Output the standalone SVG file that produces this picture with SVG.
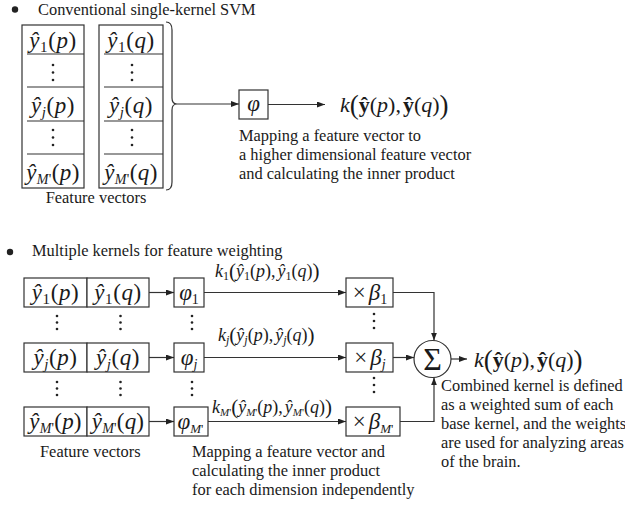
<svg xmlns="http://www.w3.org/2000/svg" width="625" height="505" viewBox="0 0 625 505">
<defs>
<style>
.t{font-family:"Liberation Serif","Times New Roman",serif;font-size:16.4px;fill:#1a1a1a}
.m{font-family:"Liberation Serif","Times New Roman",serif;font-size:23px;fill:#1a1a1a}
.i{font-style:italic}
.b{font-weight:bold}
.box{fill:#fff;stroke:#333;stroke-width:1.2}
.ln{fill:none;stroke:#333;stroke-width:1.2}
.dot{fill:#222}
</style>
<marker id="ah" viewBox="0 0 8 6" refX="8" refY="3" markerWidth="8" markerHeight="6" markerUnits="userSpaceOnUse" orient="auto">
<path d="M0,0 L8,3 L0,6 z" fill="#222"/>
</marker>
</defs>
<rect width="625" height="505" fill="#fff"/>

<g id="title-top">
<circle cx="15" cy="9.5" r="3.2" class="dot"/>
<text class="t" x="38" y="15">Conventional single-kernel SVM</text>
</g>

<g id="vec-p-top">
<rect class="box" x="22" y="25" width="62" height="163"/>
<path class="ln" d="M27,54 H84 M27,87 H84 M27,121 H84 M27,154 H84"/>
<text class="m" x="53" y="48" text-anchor="middle" letter-spacing="0.6"><tspan class="i">ŷ</tspan><tspan font-size="15" dy="4">1</tspan><tspan dy="-4">(</tspan><tspan class="i">p</tspan>)</text>
<circle class="dot" cx="53" cy="65" r="1.3"/><circle class="dot" cx="53" cy="72.5" r="1.3"/><circle class="dot" cx="53" cy="80" r="1.3"/>
<text class="m" x="53" y="113" text-anchor="middle" letter-spacing="0.6"><tspan class="i">ŷ</tspan><tspan class="i" font-size="15" dy="4">j</tspan><tspan dy="-4">(</tspan><tspan class="i">p</tspan>)</text>
<circle class="dot" cx="53" cy="130" r="1.3"/><circle class="dot" cx="53" cy="137.5" r="1.3"/><circle class="dot" cx="53" cy="145" r="1.3"/>
<text class="m" x="53" y="180" text-anchor="middle" letter-spacing="0.4"><tspan class="i">ŷ</tspan><tspan class="i" font-size="14" dy="4">M</tspan><tspan font-size="14">'</tspan><tspan dy="-4">(</tspan><tspan class="i">p</tspan>)</text>
</g>

<g id="vec-q-top">
<rect class="box" x="99" y="25" width="64" height="163"/>
<path class="ln" d="M104,54 H163 M104,87 H163 M104,121 H163 M104,154 H163"/>
<text class="m" x="131" y="48" text-anchor="middle" letter-spacing="0.6"><tspan class="i">ŷ</tspan><tspan font-size="15" dy="4">1</tspan><tspan dy="-4">(</tspan><tspan class="i">q</tspan>)</text>
<circle class="dot" cx="132" cy="65" r="1.3"/><circle class="dot" cx="132" cy="72.5" r="1.3"/><circle class="dot" cx="132" cy="80" r="1.3"/>
<text class="m" x="131" y="113" text-anchor="middle" letter-spacing="0.6"><tspan class="i">ŷ</tspan><tspan class="i" font-size="15" dy="4">j</tspan><tspan dy="-4">(</tspan><tspan class="i">q</tspan>)</text>
<circle class="dot" cx="132" cy="130" r="1.3"/><circle class="dot" cx="132" cy="137.5" r="1.3"/><circle class="dot" cx="132" cy="145" r="1.3"/>
<text class="m" x="131" y="180" text-anchor="middle" letter-spacing="0.4"><tspan class="i">ŷ</tspan><tspan class="i" font-size="14" dy="4">M</tspan><tspan font-size="14">'</tspan><tspan dy="-4">(</tspan><tspan class="i">q</tspan>)</text>
</g>

<g id="label-fv-top">
<text class="t" x="96" y="203" text-anchor="middle">Feature vectors</text>
</g>

<g id="phi-top">
<rect class="box" x="239" y="90" width="29" height="29"/>
<text class="m i" x="253.5" y="111" text-anchor="middle">φ</text>
</g>

<g id="out-top">
<text class="m" x="340" y="112" style="font-size:22px"><tspan class="i">k</tspan><tspan font-size="27" dy="1.5">(</tspan><tspan class="b" dy="-1.5">ŷ</tspan>(<tspan class="i">p</tspan>),<tspan class="b" dx="2">ŷ</tspan>(<tspan class="i">q</tspan>)<tspan font-size="27" dy="1.5">)</tspan></text>
</g>

<g id="desc-top">
<text class="t" x="239" y="141">Mapping a feature vector to</text>
<text class="t" x="239" y="160">a higher dimensional feature vector</text>
<text class="t" x="239" y="179">and calculating the inner product</text>
</g>

<g id="title-bottom">
<circle cx="10" cy="252" r="3.2" class="dot"/>
<text class="t" x="32" y="256">Multiple kernels for feature weighting</text>
</g>

<g id="row1">
<rect class="box" x="24" y="278" width="63" height="29"/>
<rect class="box" x="87" y="278" width="62" height="29"/>
<text class="m" x="55.5" y="300" text-anchor="middle" letter-spacing="0.6"><tspan class="i">ŷ</tspan><tspan font-size="15" dy="4">1</tspan><tspan dy="-4">(</tspan><tspan class="i">p</tspan>)</text>
<text class="m" x="118" y="300" text-anchor="middle" letter-spacing="0.6"><tspan class="i">ŷ</tspan><tspan font-size="15" dy="4">1</tspan><tspan dy="-4">(</tspan><tspan class="i">q</tspan>)</text>
</g>
<g id="phi1">
<rect class="box" x="174" y="278" width="30" height="29"/>
<text class="m" x="189" y="300" text-anchor="middle"><tspan class="i">φ</tspan><tspan font-size="14" dy="4">1</tspan></text>
</g>
<g id="beta1">
<rect class="box" x="346" y="278" width="47" height="29"/>
<text class="m" x="370" y="300" text-anchor="middle">×<tspan class="i" dx="3">β</tspan><tspan font-size="14" dy="4">1</tspan></text>
</g>

<g id="rowj">
<rect class="box" x="24" y="343" width="63" height="29"/>
<rect class="box" x="87" y="343" width="62" height="29"/>
<text class="m" x="55.5" y="365" text-anchor="middle" letter-spacing="0.6"><tspan class="i">ŷ</tspan><tspan class="i" font-size="15" dy="4">j</tspan><tspan dy="-4">(</tspan><tspan class="i">p</tspan>)</text>
<text class="m" x="118" y="365" text-anchor="middle" letter-spacing="0.6"><tspan class="i">ŷ</tspan><tspan class="i" font-size="15" dy="4">j</tspan><tspan dy="-4">(</tspan><tspan class="i">q</tspan>)</text>
</g>
<g id="phij">
<rect class="box" x="174" y="343" width="30" height="29"/>
<text class="m" x="189" y="365" text-anchor="middle"><tspan class="i">φ</tspan><tspan class="i" font-size="14" dy="4">j</tspan></text>
</g>
<g id="betaj">
<rect class="box" x="346" y="343" width="47" height="29"/>
<text class="m" x="370" y="365" text-anchor="middle">×<tspan class="i" dx="3">β</tspan><tspan class="i" font-size="14" dy="4">j</tspan></text>
</g>

<g id="rowM">
<rect class="box" x="24" y="407" width="63" height="29"/>
<rect class="box" x="87" y="407" width="62" height="29"/>
<text class="m" x="55.5" y="429" text-anchor="middle" letter-spacing="0.2"><tspan class="i">ŷ</tspan><tspan class="i" font-size="14" dy="4">M</tspan><tspan font-size="14">'</tspan><tspan dy="-4">(</tspan><tspan class="i">p</tspan>)</text>
<text class="m" x="118" y="429" text-anchor="middle" letter-spacing="0.2"><tspan class="i">ŷ</tspan><tspan class="i" font-size="14" dy="4">M</tspan><tspan font-size="14">'</tspan><tspan dy="-4">(</tspan><tspan class="i">q</tspan>)</text>
</g>
<g id="phiM">
<rect class="box" x="174" y="407" width="34" height="29"/>
<text class="m" x="190.5" y="429" text-anchor="middle"><tspan class="i">φ</tspan><tspan class="i" font-size="13" dy="4">M</tspan><tspan font-size="13">'</tspan></text>
</g>
<g id="betaM">
<rect class="box" x="346" y="407" width="54" height="29"/>
<text class="m" x="373" y="429" text-anchor="middle">×<tspan class="i" dx="3">β</tspan><tspan class="i" font-size="13" dy="4">M</tspan><tspan font-size="13">'</tspan></text>
</g>

<g id="vdots">
<g class="dot">
<circle cx="57" cy="316" r="1.3"/><circle cx="57" cy="322.5" r="1.3"/><circle cx="57" cy="329" r="1.3"/>
<circle cx="120.5" cy="316" r="1.3"/><circle cx="120.5" cy="322.5" r="1.3"/><circle cx="120.5" cy="329" r="1.3"/>
<circle cx="192" cy="316" r="1.3"/><circle cx="192" cy="322.5" r="1.3"/><circle cx="192" cy="329" r="1.3"/>
<circle cx="374" cy="314" r="1.3"/><circle cx="374" cy="321" r="1.3"/><circle cx="374" cy="328" r="1.3"/>
<circle cx="57" cy="382" r="1.3"/><circle cx="57" cy="388.5" r="1.3"/><circle cx="57" cy="395" r="1.3"/>
<circle cx="120.5" cy="382" r="1.3"/><circle cx="120.5" cy="388.5" r="1.3"/><circle cx="120.5" cy="395" r="1.3"/>
<circle cx="192" cy="382" r="1.3"/><circle cx="192" cy="388.5" r="1.3"/><circle cx="192" cy="395" r="1.3"/>
<circle cx="374" cy="378" r="1.3"/><circle cx="374" cy="385" r="1.3"/><circle cx="374" cy="392" r="1.3"/>
</g>
</g>

<g id="sum">
<circle cx="432.5" cy="359" r="18.5" fill="#fff" stroke="#333" stroke-width="1.2"/>
<text class="m" x="432.5" y="370" style="font-size:32px" text-anchor="middle">Σ</text>
</g>

<g id="out-bottom">
<text class="m" x="474" y="367" style="font-size:22px"><tspan class="i">k</tspan><tspan font-size="27" dy="1.5">(</tspan><tspan class="b" dy="-1.5">ŷ</tspan>(<tspan class="i">p</tspan>),<tspan class="b" dx="2">ŷ</tspan>(<tspan class="i">q</tspan>)<tspan font-size="27" dy="1.5">)</tspan></text>
</g>

<g id="klabels">
<text class="m" x="215" y="277" style="font-size:18px"><tspan class="i">k</tspan><tspan font-size="12" dy="3">1</tspan><tspan font-size="21" dy="-2">(</tspan><tspan class="i" dy="-1">ŷ</tspan><tspan font-size="12" dy="3">1</tspan><tspan dy="-3">(</tspan><tspan class="i">p</tspan>),<tspan class="i" dx="2">ŷ</tspan><tspan font-size="12" dy="3">1</tspan><tspan dy="-3">(</tspan><tspan class="i">q</tspan>)<tspan font-size="21" dy="1">)</tspan></text>
<text class="m" x="218" y="341" style="font-size:18px"><tspan class="i">k</tspan><tspan class="i" font-size="12" dy="3">j</tspan><tspan font-size="21" dy="-2">(</tspan><tspan class="i" dy="-1">ŷ</tspan><tspan class="i" font-size="12" dy="3">j</tspan><tspan dy="-3">(</tspan><tspan class="i">p</tspan>),<tspan class="i" dx="2">ŷ</tspan><tspan class="i" font-size="12" dy="3">j</tspan><tspan dy="-3">(</tspan><tspan class="i">q</tspan>)<tspan font-size="21" dy="1">)</tspan></text>
<text class="m" x="212" y="413" style="font-size:18px"><tspan class="i">k</tspan><tspan class="i" font-size="11" dy="3">M</tspan><tspan font-size="11">'</tspan><tspan font-size="21" dy="-2">(</tspan><tspan class="i" dy="-1">ŷ</tspan><tspan class="i" font-size="11" dy="3">M</tspan><tspan font-size="11">'</tspan><tspan dy="-3">(</tspan><tspan class="i">p</tspan>),<tspan class="i" dx="2">ŷ</tspan><tspan class="i" font-size="11" dy="3">M</tspan><tspan font-size="11">'</tspan><tspan dy="-3">(</tspan><tspan class="i">q</tspan>)<tspan font-size="21" dy="1">)</tspan></text>
</g>

<g id="desc-bottom">
<text class="t" x="40" y="457">Feature vectors</text>
<text class="t" x="192" y="457">Mapping a feature vector and</text>
<text class="t" x="192" y="476">calculating the inner product</text>
<text class="t" x="192" y="495">for each dimension independently</text>
<text class="t" x="441" y="391">Combined kernel is defined</text>
<text class="t" x="441" y="410">as a weighted sum of each</text>
<text class="t" x="441" y="429">base kernel, and the weights</text>
<text class="t" x="441" y="448">are used for analyzing areas</text>
<text class="t" x="441" y="467">of the brain.</text>
</g>

<g id="connectors">
<path class="ln" d="M166,22 Q172,22 172,30 L172,98 Q172,104 177,104 Q172,104 172,110 L172,182 Q172,190 166,190"/>
<path class="ln" d="M177,104 H239" marker-end="url(#ah)"/>
<path class="ln" d="M268,104.5 H325" marker-end="url(#ah)"/>
<path class="ln" d="M149,292.5 H174" marker-end="url(#ah)"/>
<path class="ln" d="M149,357.5 H174" marker-end="url(#ah)"/>
<path class="ln" d="M149,421.5 H174" marker-end="url(#ah)"/>
<path class="ln" d="M204,292.5 H346" marker-end="url(#ah)"/>
<path class="ln" d="M204,357.5 H346" marker-end="url(#ah)"/>
<path class="ln" d="M208,421.5 H346" marker-end="url(#ah)"/>
<path class="ln" d="M393,292.5 H434 V340.6" marker-end="url(#ah)"/>
<path class="ln" d="M393,357.5 H414" marker-end="url(#ah)"/>
<path class="ln" d="M400,421.5 H434 V377.4" marker-end="url(#ah)"/>
<path class="ln" d="M451,359 H467" marker-end="url(#ah)"/>
</g>
</svg>
